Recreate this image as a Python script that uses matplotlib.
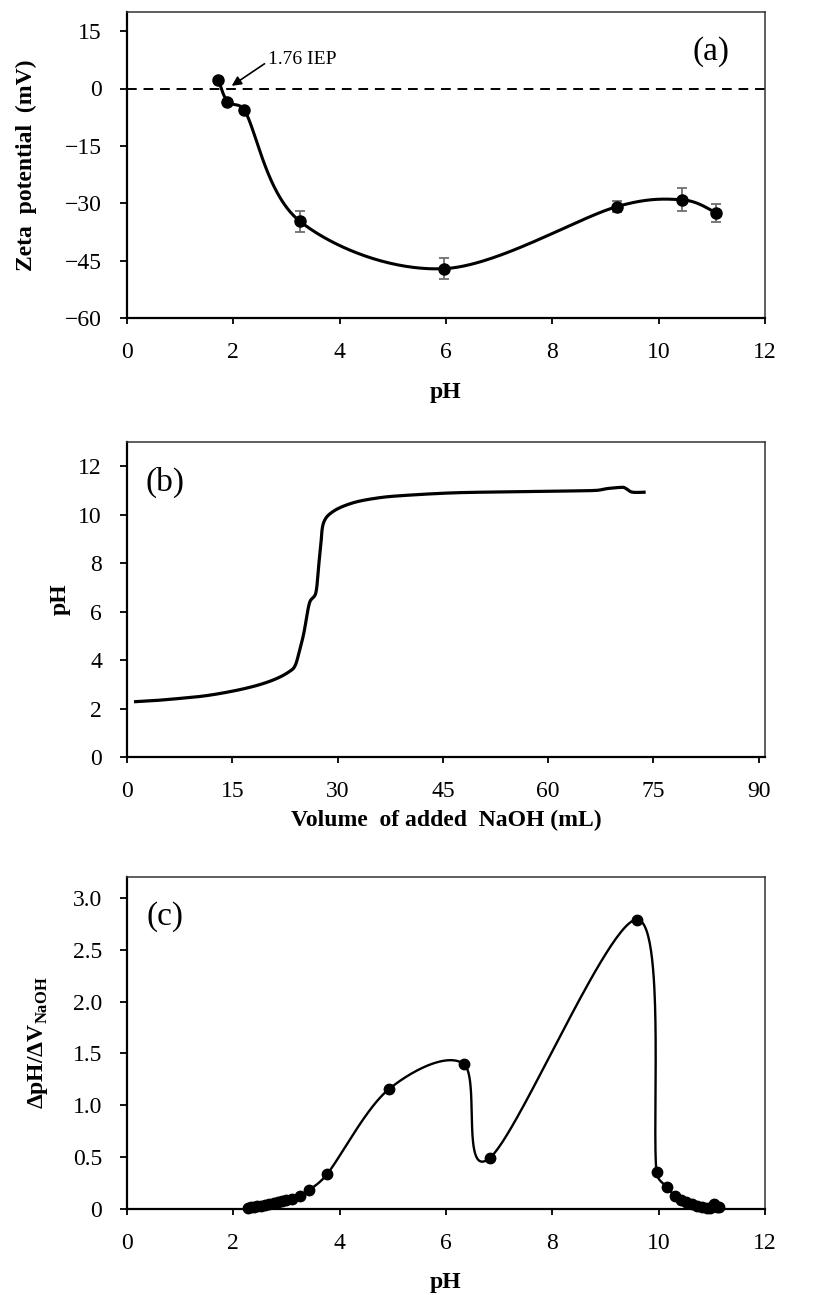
import numpy as np
import matplotlib
matplotlib.use('Agg')
import matplotlib.pyplot as plt

plt.rcParams['font.family'] = ['Liberation Serif', 'DejaVu Serif']
plt.rcParams['mathtext.fontset'] = 'custom'
plt.rcParams['mathtext.rm'] = 'Liberation Serif'
plt.rcParams['mathtext.bf'] = 'Liberation Serif:bold'

# (a) zeta potential vs pH
zeta_ph = [1.72, 1.89, 2.21, 3.25, 5.96, 9.21, 10.44, 11.08]
zeta_mv = [2.2, -3.4, -5.7, -34.7, -47.1, -30.9, -29.1, -32.5]
zeta_err = [0.4, 0.4, 0.4, 2.8, 2.8, 1.5, 3.0, 2.4]
iep_label = '1.76 IEP'

# (b) titration curve: pH vs volume of NaOH added
naoh_ml = [1.0, 4.0, 8.0, 11.0, 14.0, 17.0, 19.5, 21.5, 23.0, 23.9, 24.5, 25.2,
           26.0, 26.9, 27.3, 27.6, 28.0, 29.4, 32.2, 35.7, 39.3, 46.3, 53.3,
           60.4, 66.7, 68.5, 70.6, 71.1, 72.0, 73.9]
titr_ph = [2.28, 2.33, 2.43, 2.52, 2.66, 2.84, 3.04, 3.26, 3.50, 3.74, 4.29, 5.12,
           6.36, 6.77, 7.87, 8.70, 9.66, 10.14, 10.49, 10.69, 10.79, 10.90, 10.94,
           10.97, 11.00, 11.08, 11.13, 11.08, 10.93, 10.93]

# (c) first derivative dpH/dV vs pH
deriv_ph = [2.28, 2.33, 2.38, 2.45, 2.52, 2.60, 2.68, 2.76, 2.84, 2.92, 3.00,
            3.10, 3.25, 3.42, 3.77, 4.93, 6.33, 6.82, 9.60, 9.96, 10.16, 10.30,
            10.42, 10.52, 10.62, 10.72, 10.82, 10.90, 10.96, 11.04, 11.10, 11.14]
deriv_val = [0.005, 0.015, 0.02, 0.025, 0.03, 0.04, 0.05, 0.058, 0.065, 0.075, 0.085,
             0.10, 0.13, 0.18, 0.34, 1.157, 1.40, 0.49, 2.79, 0.355, 0.21, 0.13,
             0.09, 0.065, 0.045, 0.03, 0.015, 0.005, 0.01, 0.05, 0.02, 0.015]

W_PX, H_PX, DPI = 833, 1295, 100
fig = plt.figure(figsize=(W_PX / DPI, H_PX / DPI), dpi=DPI)


def axes_px(left, top, right, bottom):
    return fig.add_axes([left / W_PX, 1 - bottom / H_PX,
                         (right - left) / W_PX, (bottom - top) / H_PX])


def smooth_curve(ax, x, y, n=60):
    """Cubic Bezier smoothing (Catmull-Rom tangents, limited by segment
    length) computed in screen space."""
    bb = ax.get_position()
    w = bb.width * fig.get_figwidth() * fig.dpi
    h = bb.height * fig.get_figheight() * fig.dpi
    xa, xb = ax.get_xlim()
    ya, yb = ax.get_ylim()
    sx, sy = w / (xb - xa), h / (yb - ya)
    P = np.column_stack([np.asarray(x, float) * sx, np.asarray(y, float) * sy])
    ext = np.vstack([P[0], P, P[-1]])
    tang = [(ext[i + 2] - ext[i]) / 6.0 for i in range(len(P))]

    def limit(v, L):
        m = np.hypot(*v)
        return v if m <= L or m == 0 else v * (L / m)

    t = np.linspace(0, 1, n)[1:, None]
    out = [P[:1]]
    for i in range(len(P) - 1):
        p0, p3 = P[i], P[i + 1]
        seg = np.hypot(*(p3 - p0))
        p1 = p0 + limit(tang[i], 0.5 * seg)
        p2 = p3 - limit(tang[i + 1], 0.5 * seg)
        out.append((1 - t) ** 3 * p0 + 3 * (1 - t) ** 2 * t * p1
                   + 3 * (1 - t) * t ** 2 * p2 + t ** 3 * p3)
    Q = np.vstack(out)
    return Q[:, 0] / sx, Q[:, 1] / sy


TICK_FS = 17
LABEL_FS = 17


def style_axes(ax):
    for s in ('left', 'bottom'):
        ax.spines[s].set_linewidth(1.6)
        ax.spines[s].set_color('black')
    for s in ('top', 'right'):
        ax.spines[s].set_linewidth(1.1)
        ax.spines[s].set_color('#333333')
    ax.tick_params(direction='out', width=1.3, labelsize=TICK_FS,
                   top=False, right=False)
    ax.tick_params(axis='x', length=4, pad=13.5)
    ax.tick_params(axis='y', length=5, pad=13)


# ---------- (a) ----------
ax_a = axes_px(127, 12, 765, 318)
ax_a.set_xlim(0, 12)
ax_a.set_ylim(-60, 20)
ax_a.set_xticks(range(0, 13, 2))
ax_a.set_yticks(range(-60, 16, 15))
ax_a.set_yticklabels([f'{v}'.replace('-', '\u2212') for v in range(-60, 16, 15)])
style_axes(ax_a)
ax_a.axhline(0, color='black', lw=1.4, ls=(0, (5, 3.5)), zorder=1)
sx_, sy_ = smooth_curve(ax_a, zeta_ph, zeta_mv)
ax_a.plot(sx_, sy_, color='black', lw=2.2, zorder=3)
ax_a.errorbar(zeta_ph, zeta_mv, yerr=zeta_err, fmt='none', ecolor='#6e6e6e',
              elinewidth=1.3, capsize=3.5, capthick=1.3, zorder=2)
ax_a.plot(zeta_ph, zeta_mv, 'o', color='black', ms=8, zorder=4)
ax_a.annotate(iep_label, xy=(1.97, 0.7), xytext=(2.66, 7.6),
              fontsize=14, ha='left', va='center',
              arrowprops=dict(arrowstyle='-|>', color='black', lw=1.2,
                              mutation_scale=14, shrinkA=1, shrinkB=0,
                              relpos=(0.0, 0.4)))
ax_a.text(0.915, 0.87, '(a)', transform=ax_a.transAxes, fontsize=24,
          ha='center', va='center')
ax_a.text(-0.158, 0.5, 'Zeta  potential  (mV)', transform=ax_a.transAxes,
          rotation=90, ha='center', va='center', fontsize=LABEL_FS,
          fontweight='bold')
fig.text(446 / W_PX, 1 - 398 / H_PX, 'pH', ha='center', va='baseline',
         fontsize=LABEL_FS, fontweight='bold')

# ---------- (b) ----------
ax_b = axes_px(127, 442, 765, 757)
ax_b.set_xlim(0, 90.9)
ax_b.set_ylim(0, 13)
ax_b.set_xticks(range(0, 91, 15))
ax_b.set_yticks(range(0, 13, 2))
style_axes(ax_b)
bx, by = smooth_curve(ax_b, naoh_ml, titr_ph)
ax_b.plot(bx, by, color='black', lw=2.3, solid_capstyle='butt')
ax_b.text(0.06, 0.873, '(b)', transform=ax_b.transAxes, fontsize=24,
          ha='center', va='center')
ax_b.text(-0.105, 0.5, 'pH', transform=ax_b.transAxes, rotation=90,
          ha='center', va='center', fontsize=LABEL_FS, fontweight='bold')
fig.text(446 / W_PX, 1 - 826 / H_PX, 'Volume  of added  NaOH (mL)',
         ha='center', va='baseline', fontsize=LABEL_FS, fontweight='bold')

# ---------- (c) ----------
ax_c = axes_px(127, 877, 765, 1209)
ax_c.set_xlim(0, 12)
ax_c.set_ylim(0, 3.2)
ax_c.set_xticks(range(0, 13, 2))
yt = [0, 0.5, 1.0, 1.5, 2.0, 2.5, 3.0]
ax_c.set_yticks(yt)
ax_c.set_yticklabels(['0'] + [f'{v:.1f}' for v in yt[1:]])
style_axes(ax_c)
cx, cy = smooth_curve(ax_c, deriv_ph, deriv_val)
ax_c.plot(cx, cy, color='black', lw=1.7, zorder=3, clip_on=False)
ax_c.plot(deriv_ph, deriv_val, 'o', color='black', ms=7.5, zorder=4,
          clip_on=False)
ax_c.text(0.06, 0.88, '(c)', transform=ax_c.transAxes, fontsize=24,
          ha='center', va='center')
ax_c.text(-0.14, 0.5, r'ΔpH/ΔV$_{\mathbf{NaOH}}$', transform=ax_c.transAxes,
          rotation=90, ha='center', va='center', fontsize=LABEL_FS,
          fontweight='bold')
fig.text(446 / W_PX, 1 - 1288 / H_PX, 'pH', ha='center', va='baseline',
         fontsize=LABEL_FS, fontweight='bold')

fig.savefig('out.png', dpi=DPI)
